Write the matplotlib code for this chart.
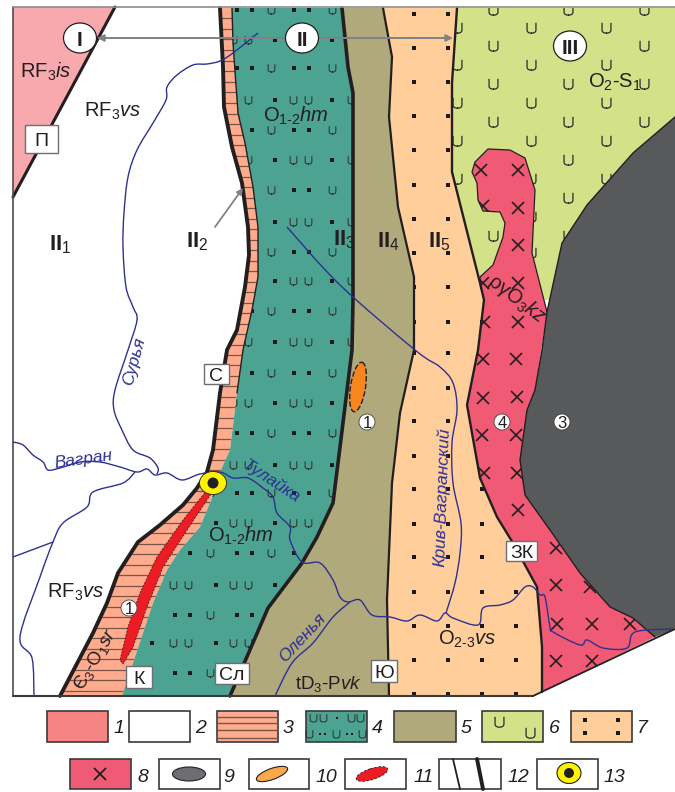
import matplotlib
matplotlib.use("Agg")
import matplotlib.pyplot as plt
from matplotlib.patches import Polygon, Ellipse, Rectangle, Circle, PathPatch
from matplotlib.path import Path

plt.rcParams['font.family'] = ['Liberation Sans', 'DejaVu Sans']
plt.rcParams['mathtext.fontset'] = 'custom'
plt.rcParams['mathtext.rm'] = 'Liberation Sans'
plt.rcParams['mathtext.it'] = 'Liberation Sans:italic'
plt.rcParams['mathtext.bf'] = 'Liberation Sans:bold'

# ---------- geological boundaries (map coordinates, top to bottom) ----------
bound_a = [(220,8),(223,67),(224,107),(232,147),(242,183),(248,227),(249,255),(245,287),(237,330),
           (227,350),(220,393),(213,450),(207,472),(197,488),(183,505),(160,525),(138,542),(118,573),
           (107,603),(93,633),(60,696)]
bound_b = [(232,8),(233,43),(238,113),(245,143),(253,187),(258,227),(258,277),(252,310),(243,350),
           (237,393),(230,450),(220,472),(212,498),(200,527),(180,550),(167,570),(153,603),(143,633),(122,696)]
bound_c = [(342,8),(348,67),(353,93),(353,167),(353,300),(352,350),(340,447),(333,503),(317,537),
           (302,563),(268,608),(230,696)]
bound_d = [(383,8),(392,57),(389,117),(398,207),(414,277),(414,350),(400,413),(392,483),(387,600),(389,696)]
bound_e = [(457,8),(452,83),(452,172),(480,283),(484,300),(478,350),(467,405),(480,478),(497,517),
           (513,543),(537,587),(542,647),(542,692)]
pink_wedge = [(13,7),(115,7),(13,197)]
green_outer = [(457,8),(675,8),(675,300),(484,300),(480,283),(452,172),(452,83)]
dark_edge = [(675,117),(633,153),(587,205),(562,243),(547,312),(542,350),(535,390),(527,410),(520,460),
             (525,495),(550,530),(580,573),(610,607),(633,618),(655,637)]
dark_close = [(675,629)]
granite_top = [(480,283),(480,277),(493,265),(503,237),(505,223),(500,212),(483,211),(478,200),(477,183),
               (472,172),(475,162),(488,149),(510,150),(525,158),(535,190),(532,253),(547,312)]
red_lens = [(207,490),(183,520),(157,557),(140,593),(128,627),(120,660),(123,664),(133,647),(147,607),
            (163,567),(187,530),(211,494)]

# ---------- rivers ----------
river_surya = [(258,33),(233,53),(220,61),(207,64),(193,65),(177,75),(167,87),(166,100),(153,123),(137,150),
               (128,177),(124,213),(123,247),(126,287),(133,307),(137,320),(128,350),(115,390),(114,410),
               (122,430),(133,450),(150,458),(158,468),(157,474)]
river_vagran = [(13,442),(23,445),(33,455),(43,462),(48,470),(60,468),(80,462),(100,462),(120,467),(137,472),
                (147,469),(155,475),(167,473),(182,480),(200,474),(220,472),(233,478),(248,478),(263,488),
                (273,497),(277,513),(290,527),(290,540),(302,562),(320,563),(333,580),(340,597),(348,602),
                (360,600),(372,615),(390,617),(407,621),(420,615),(437,621),(445,613),(453,618),(478,625),
                (483,608),(500,605),(513,600),(525,587),(533,587),(540,595),(545,597),(550,627),(553,632),
                (580,645),(587,640),(603,648),(627,648),(635,632),(673,629)]
river_branch = [(135,472),(123,483),(93,492),(87,507),(63,523),(53,542),(40,577),(20,637),(32,658),(34,696)]
river_branch2 = [(13,557),(53,542)]
river_kriv = [(287,227),(340,285),(415,350),(440,367),(453,383),(457,410),(452,443),(453,483),(461,523),
              (460,553),(455,583),(446,613)]
river_olenya = [(275,696),(292,663),(313,643),(333,617),(350,602)]

# ---------- pattern rows ----------
teal_rows_a = [40,100,160,222,281,342,403,465,523,585,643]
teal_rows_b = [10,68,130,190,252,311,373,433,493,553,615,673]
teal_a_u = [173,188,233,248,293,308,351]
teal_a_dot = [152,216,275,332]
teal_b_u = [210,271,332]
teal_b_dot = [175,190,237,252,294,309]
green_rows_a = [10,46,84,122,160,198,236]
green_rows_b = [28,65,103,141,179,217,253]
green_a_x = [493,568,644]
green_b_x = [457,531,606]
peach_rows = [14,48,82,116,150,185,219,253,287,322,353,388,421,456,489,524,557,592,626,660,694]
peach_x = [414,448,482,516]
granite_x = [481,518,483,518,518,483,518,484,518,483,516,483,517,482,516,484,517,518,556,556,590,557,592,630,556,592]
granite_y = [170,170,206,208,245,283,283,322,322,359,359,398,397,435,435,473,473,510,548,585,587,624,624,624,661,661]
band_rows = [18,29,39,50,61,71,82,92,103,114,124,135,145,156,166,177,187,198,208,219,229,240,250,261,271,282,292,
             303,313,324,334,345,355,365,376,386,397,407,418,428,439,449,460,470,481,491,502,512,523,533,544,554,
             565,575,586,596,607,617,628,638,649,659,670,680,691]

colors = dict(wedge='#F8A9AE', band='#FFAB8E', teal='#4CA391', olive='#AFA97C', peach='#FFCE9B',
              green='#D3E188', granite='#F15A74', dark='#58595B', line='#231F20', river='#2E3192',
              gray='#808285')

U_PATH = Path([(-0.78,1),(-0.78,-0.3),(-0.78,-1),(0.78,-1),(0.78,-0.3),(0.78,1)],
              [Path.MOVETO,Path.LINETO,Path.CURVE4,Path.CURVE4,Path.CURVE4,Path.LINETO])

fig = plt.figure(figsize=(6.75,7.92), dpi=100, facecolor='white')
ax = fig.add_axes([0,0,1,1])
ax.set_xlim(0,675); ax.set_ylim(792,0); ax.axis('off')

def poly(pts, fc, z=1):
    p = Polygon(pts, closed=True, fc=fc, ec='none', zorder=z)
    ax.add_patch(p)
    return p

def line(pts, lw=1.0, c=None, z=6, **kw):
    c = c or colors['line']
    xs, ys = zip(*pts)
    return ax.plot(xs, ys, color=c, lw=lw, zorder=z, solid_capstyle='round', solid_joinstyle='round', **kw)[0]

def smooth(pts, lw=1.0, c=None, z=8):
    # Catmull-Rom rendering of the traced vertices as Bezier segments
    verts = [pts[0]]
    codes = [Path.MOVETO]
    n = len(pts)
    for i in range(n-1):
        p0 = pts[max(i-1,0)]; p1 = pts[i]; p2 = pts[i+1]; p3 = pts[min(i+2,n-1)]
        c1 = (p1[0]+(p2[0]-p0[0])/6, p1[1]+(p2[1]-p0[1])/6)
        c2 = (p2[0]-(p3[0]-p1[0])/6, p2[1]-(p3[1]-p1[1])/6)
        verts += [c1, c2, p2]
        codes += [Path.CURVE4]*3
    ax.add_patch(PathPatch(Path(verts, codes), fc='none', ec=c, lw=lw, zorder=z))

def marks(xs, ys, marker, ms, clip=None, c='#2b2b2b', mew=0.8, z=3):
    l, = ax.plot(xs, ys, ls='none', marker=marker, ms=ms, mfc='none' if marker is U_PATH else c,
                 mec=c, mew=mew, zorder=z)
    if clip is not None:
        l.set_clip_path(clip)
    return l

def grid(rows, cols, marker, ms, clip, **kw):
    xs = [x for y in rows for x in cols]
    ys = [y for y in rows for x in cols]
    return marks(xs, ys, marker, ms, clip, **kw)

# ---------- units ----------
p_wedge = poly(pink_wedge, colors['wedge'])
p_green = poly(green_outer, colors['green'])
p_band = poly(bound_a + bound_b[::-1], colors['band'])
p_teal = poly(bound_b + bound_c[::-1], colors['teal'])
p_olive = poly(bound_c + bound_d[::-1], colors['olive'])
p_peach = poly(bound_d + [(533,696),(542,692)] + bound_e[::-1], colors['peach'])

grid(green_rows_a, green_a_x, U_PATH, 8.2, p_green, mew=0.9)
grid(green_rows_b, green_b_x, U_PATH, 8.2, p_green, mew=0.9)

p_granite = poly(granite_top + dark_edge[6:] + bound_e[:3:-1], colors['granite'], z=4)
p_dark = poly(dark_edge + dark_close, colors['dark'], z=4)
line(granite_top, lw=0.9, z=5)

hl = ax.hlines(band_rows, 50, 270, color='#7A5548', lw=0.9, zorder=2)
hl.set_clip_path(p_band)

grid(teal_rows_a, teal_a_u, U_PATH, 6.2, p_teal, mew=0.7)
grid(teal_rows_a, teal_a_dot, 's', 2.7, p_teal, mew=0, c='#1a1a1a')
grid(teal_rows_b, teal_b_u, U_PATH, 6.2, p_teal, mew=0.7)
grid(teal_rows_b, teal_b_dot, 's', 2.7, p_teal, mew=0, c='#1a1a1a')
grid(peach_rows, peach_x, 's', 3.4, p_peach, mew=0, c='#1a1a1a')
marks(granite_x, granite_y, 'x', 8.5, p_granite, c='#231F20', mew=1.2, z=5)

# ---------- boundaries ----------
line(bound_a, lw=2.8)
line(bound_b[:10], lw=1.0)
line(bound_c, lw=2.6)
line(bound_d, lw=1.6)
line(bound_e, lw=1.7)
line(dark_edge, lw=1.0)
line(pink_wedge[1:], lw=2.2)
line([(13,7),(13,696)], lw=1.2, c='#4d4d4d')
line([(13,7),(675,7)], lw=1.2, c='#8c8c8c')
line([(13,696),(533,696)], lw=1.5, c='#3a3a3a')
line([(533,696),(675,629)], lw=1.3, c='#231F20')

# ---------- lenses ----------
ax.add_patch(Polygon(red_lens, closed=True, fc='#ED1C24', ec='#231F20', lw=0.5, ls=(0,(3,2)), zorder=7))
ax.add_patch(Ellipse((358,387), 15, 50, angle=9, fc='#F7861F', ec='#231F20', lw=1.0, ls=(0,(4,1.5)), zorder=7))

# ---------- rivers ----------
for r in (river_surya, river_vagran, river_branch, river_branch2, river_kriv, river_olenya):
    smooth(r, lw=1.0, c=colors['river'], z=8)

# ---------- arrows ----------
ax.annotate('', xy=(97,38), xytext=(453,38), zorder=9,
            arrowprops=dict(arrowstyle='<|-|>', color=colors['gray'], lw=1.4, shrinkA=0, shrinkB=0, mutation_scale=10))
ax.annotate('', xy=(243,188), xytext=(215,227), zorder=9,
            arrowprops=dict(arrowstyle='-|>', color=colors['gray'], lw=1.3, shrinkA=0, shrinkB=0, mutation_scale=9))

# ---------- deposit marker ----------
ax.add_patch(Ellipse((213,483), 27, 23, fc='#FFF200', ec='#231F20', lw=0.6, zorder=10))
ax.add_patch(Circle((213,483), 5.5, fc='#231F20', ec='none', zorder=11))

# ---------- labels ----------
TXT = '#231F20'
def t(x, y, s, size=14.5, rot=0, c=TXT, style='normal', ha='left', va='baseline', weight='normal', z=12):
    ax.text(x, y, s, fontsize=size, rotation=rot, color=c, style=style, ha=ha, va=va, weight=weight,
            rotation_mode='anchor', zorder=z)

for (cx, cy, s) in [(80,38,'I'),(302,38,'II'),(570,46,'III')]:
    ax.add_patch(Ellipse((cx,cy), 33, 30, fc='white', ec='#231F20', lw=0.9, zorder=11))
    t(cx, cy+7.5, s, size=15, ha='center', weight='bold')

t(20,78,'RF$_{3}$$\\mathit{is}$')
t(84,117,'RF$_{3}$$\\mathit{vs}$')
t(47,598,'RF$_{3}$$\\mathit{vs}$')
t(263,122,'O$_{1\\text{-}2}$$\\mathit{hm}$')
t(208,542,'O$_{1\\text{-}2}$$\\mathit{hm}$')
t(588,88,'O$_{2}$-S$_{1}$')
t(438,645,'O$_{2\\text{-}3}$$\\mathit{vs}$')
t(295,689,'tD$_{3}$-P$\\mathit{vk}$', size=13.5)
t(487,283,'ργO$_{3}$$\\mathit{kz}$', size=14.5, rot=-37)
t(83,691,'Є$_{3}$-O$_{1}$$\\mathit{sr}$', size=13.5, rot=60)

for (x, y, s) in [(49,250,'II$_{1}$'),(186,247,'II$_{2}$'),(333,245,'II$_{3}$'),(377,247,'II$_{4}$'),(428,247,'II$_{5}$')]:
    t(x, y, s, size=16, weight='bold')

for (x0, x1, y0, y1, s) in [(25,58,125,153,'П'),(204,229,364,384,'С'),(215,249,663,684,'Сл'),
                            (126,152,666,688,'К'),(371,397,660,682,'Ю'),(506,537,541,561,'ЗК')]:
    ax.add_patch(Rectangle((x0,y0), x1-x0, y1-y0, fc='white', ec='#6d6e71', lw=1.0, zorder=11))
    t((x0+x1)/2, (y0+y1)/2+7, s, size=14, ha='center')

for (x, y, s) in [(367,422,'1'),(502,422,'4'),(562,422,'3'),(129,608,'1')]:
    ax.add_patch(Circle((x,y), 8, fc='white', ec='#444444', lw=0.6, zorder=11))
    t(x, y+5.5, s, size=12, ha='center')

RC = colors['river']
for (x, y, s, rot, sz) in [(134,361,'Сурья',75,12.5),(83,459,'Вагран',8,12.5),(271,481,'Тулайка',-33,12.5),
                           (302,638,'Оленья',47,12.5),(442,497,'Крив-Вагранский',88,12.5)]:
    t(x, y, s, size=sz, rot=rot, c=RC, style='italic', ha='center', va='center')

# ---------- legend ----------
row1 = (711,742)
row2 = (759,789)
legend_boxes = [(47,108,row1,'#F58482','1',113),(129,190,row1,'white','2',195),(217,278,row1,colors['band'],'3',283),
                (306,367,row1,colors['teal'],'4',372),(394,456,row1,colors['olive'],'5',461),
                (482,543,row1,colors['green'],'6',549),(571,632,row1,colors['peach'],'7',637),
                (70,131,row2,colors['granite'],'8',137),(159,220,row2,'white','9',223),(249,309,row2,'white','10',316),
                (345,406,row2,'white','11',413),(439,501,row2,'white','12',507),(537,598,row2,'white','13',604)]
for (x0,x1,(y0,y1),fc,lab,lx) in legend_boxes:
    ax.add_patch(Rectangle((x0,y0), x1-x0, y1-y0, fc=fc, ec='#3a3a3a', lw=1.2, zorder=3))
    t(lx, y1-9 if y0==711 else y1-7, lab, size=14, style='italic')

ax.hlines([717,723,730,738], 217, 278, color='#7A5548', lw=1.0, zorder=4)
leg4_u = ([313,323,351,360,309,336,362],[718,718,718,718,734,734,734])
leg4_dot = ([337,320,325,347,352],[718,734,734,734,734])
marks(*leg4_u, U_PATH, 6.2, mew=0.7, z=5)
marks(*leg4_dot, 's', 2, mew=0, c='#1a1a1a', z=5)
marks([499,530],[722,733], U_PATH, 8.2, mew=0.9, z=5)
marks([585,618,585,618],[720,720,733,733], 's', 3.4, mew=0, c='#1a1a1a', z=5)
marks([100],[774], 'x', 9, c='#231F20', mew=1.3, z=5)
ax.add_patch(Ellipse((189,774), 33, 14, fc='#6D6E71', ec='#231F20', lw=0.8, zorder=5))
ax.add_patch(Ellipse((272,774), 33, 11, angle=-20, fc='#F9A94A', ec='#231F20', lw=0.8, zorder=5))
ax.add_patch(Ellipse((372,774), 33, 11, angle=-18, fc='#ED1C24', ec='#231F20', lw=0.6, ls=(0,(3,2)), zorder=5))
line([(453,759),(460,789)], lw=1.3, z=5)
line([(477,759),(483,789)], lw=2.8, z=5)
ax.add_patch(Ellipse((569,773), 24, 21, fc='#FFF200', ec='#231F20', lw=0.8, zorder=5))
ax.add_patch(Circle((569,773), 5, fc='#231F20', ec='none', zorder=6))

fig.savefig('out.png', dpi=100, facecolor='white')
